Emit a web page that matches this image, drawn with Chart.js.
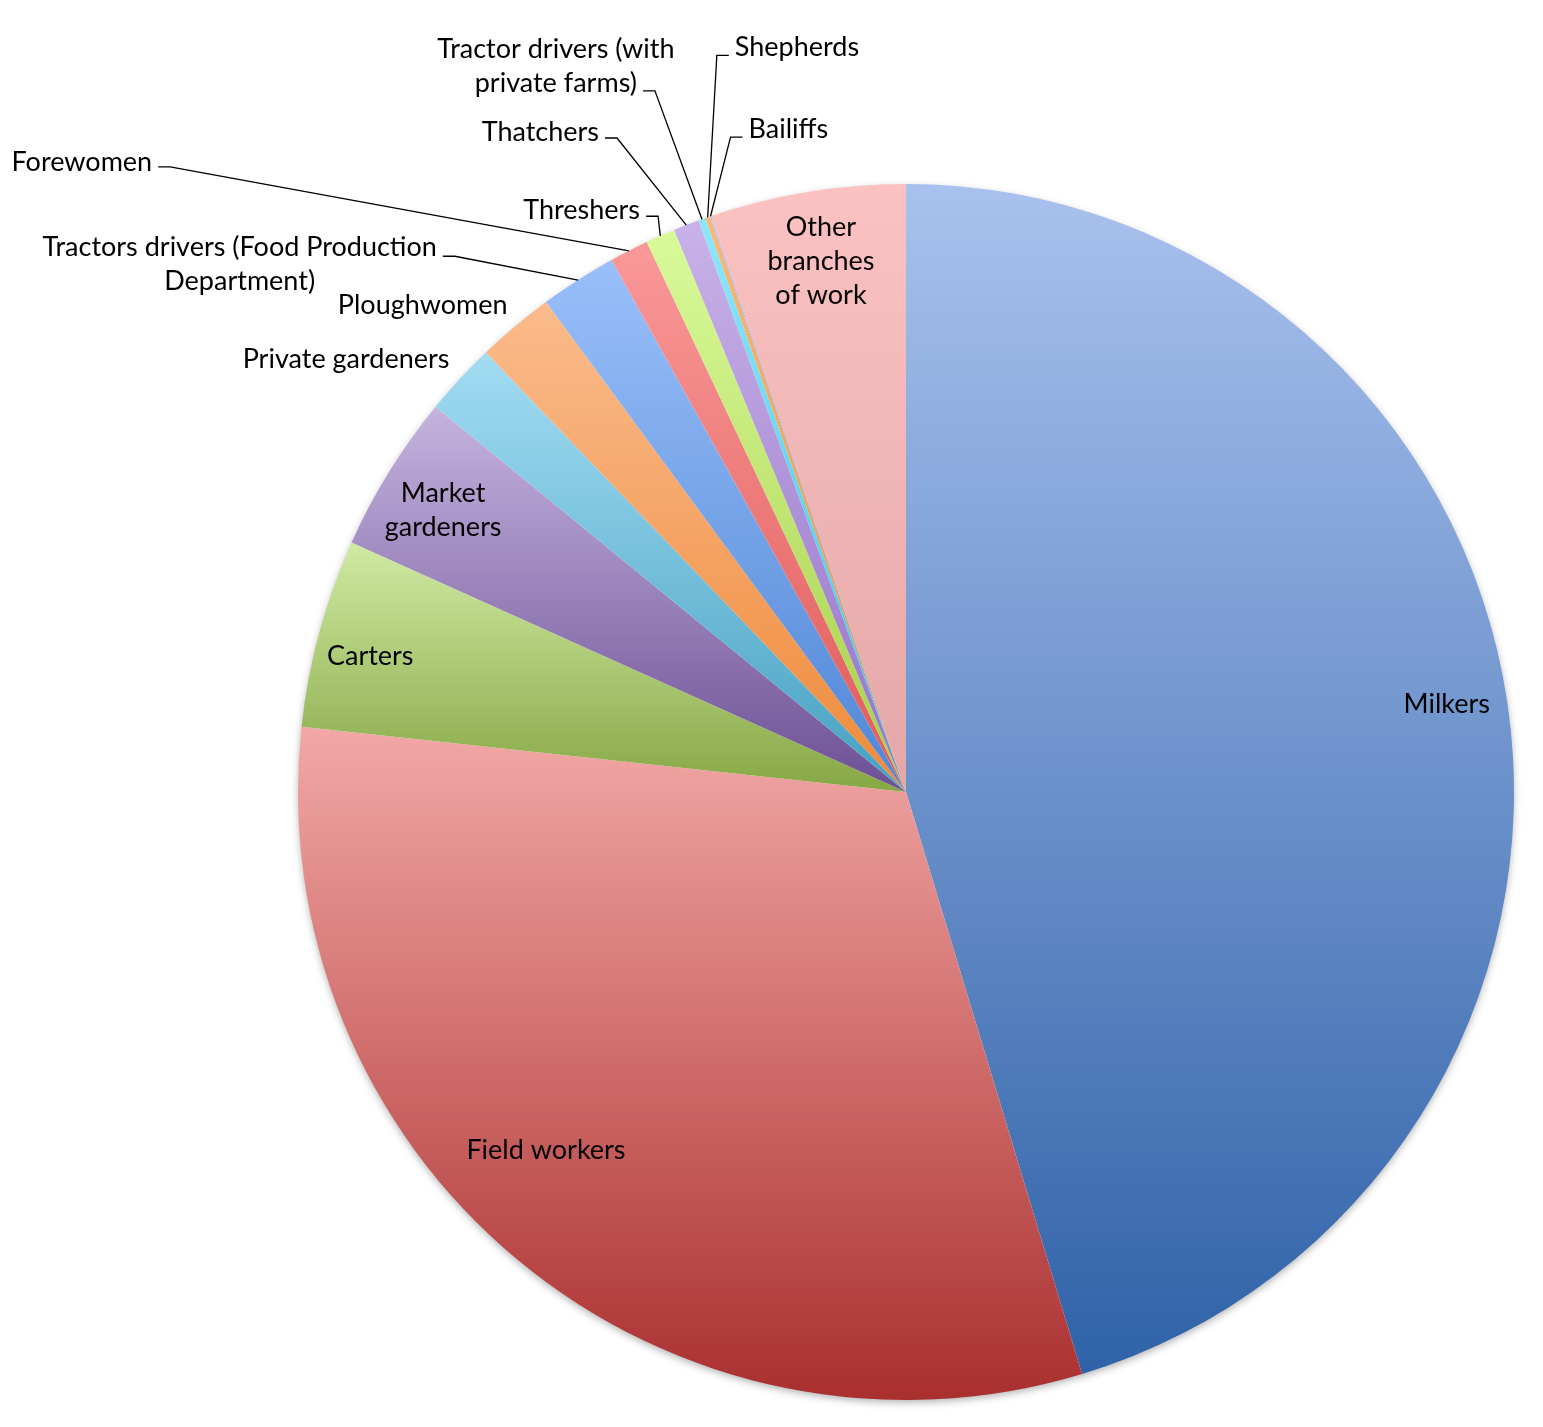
<!DOCTYPE html>
<html>
<head>
<meta charset="utf-8">
<script src="https://cdn.jsdelivr.net/npm/chart.js@4.4.0/dist/chart.umd.min.js"></script>
<style>
  html, body { margin: 0; padding: 0; background: #fff; }
  #wrap { width: 1543px; height: 1427px; position: relative; }
</style>
</head>
<body>
<div id="wrap"><canvas id="pie"></canvas></div>
<script>
var categories = ['Milkers', 'Field workers', 'Carters', 'Market gardeners', 'Private gardeners', 'Ploughwomen',
  'Tractors drivers (Food Production Department)', 'Forewomen', 'Threshers', 'Thatchers',
  'Tractor drivers (with private farms)', 'Shepherds', 'Bailiffs', 'Other branches of work'];
var workers = [5734, 3971, 635, 530, 245, 260, 258, 131, 99, 87, 24, 16, 4, 657];
var labelLines = [['Milkers'], ['Field workers'], ['Carters'], ['Market', 'gardeners'], ['Private gardeners'],
  ['Ploughwomen'], ['Tractors drivers (Food Production', 'Department)'], ['Forewomen'], ['Threshers'],
  ['Thatchers'], ['Tractor drivers (with', 'private farms)'], ['Shepherds'], ['Bailiffs'],
  ['Other', 'branches', 'of work']];

// slice shading, light at the top of each slice and dark at its bottom
var topColors = ['#a9c1ee', '#f2a8a6', '#d0eaa4', '#c4b3de', '#a2dcf2', '#fbbb8c', '#99bff9',
  '#fa9898', '#d9fa9a', '#c8b2e8', '#8ee6fb', '#fbb676', '#a3c2f2', '#fcc2c2'];
var bottomColors = ['#2f62a8', '#aa2f2f', '#86a744', '#6c4f94', '#45a0c2', '#ee8a3a', '#4f86d6',
  '#df5a5a', '#a6cf4a', '#9472c8', '#3ec2e4', '#f08c32', '#5282d0', '#e3a7a7'];

// label spots: angle clockwise from 12 o'clock (deg) and distance as share of the radius
// line = leader line with its elbow at that spot, side = which way the text hangs, dy = text shift
// fit = which text line sits against the leader end
var labelPlace = [
  {a: 80.8, r: 0.901},
  {a: 225.1, r: 0.836},
  {a: 284.2, r: 0.909},
  {a: 301.3, r: 0.891},
  {a: 307.7, r: 1.164},
  {a: 315.2, r: 1.128},
  {a: 319.9, r: 1.152, line: true, side: -1, dy: 8, fit: 0},
  {a: 310.35, r: 1.588, line: true, side: -1, dy: -5},
  {a: 336.7, r: 1.031, line: true, side: -1, dy: -6},
  {a: 336.16, r: 1.176, line: true, side: -1, dy: -6},
  {a: 340.3, r: 1.225, line: true, side: -1, dy: -24, fit: 1},
  {a: 345.6, r: 1.251, line: true, side: 1, dy: -8},
  {a: 345.0, r: 1.115, line: true, side: 1, dy: -8},
  {a: 350.9, r: 0.884}
];

var FONT = '27px Lato';
var LINE_H = 34;

function sliceBox(arc) {
  var ys = [arc.y];
  var R = arc.outerRadius;
  ys.push(arc.y + R * Math.sin(arc.startAngle));
  ys.push(arc.y + R * Math.sin(arc.endAngle));
  for (var k = -4; k <= 8; k++) {
    var a = k * Math.PI / 2;
    if (a > arc.startAngle && a < arc.endAngle) {
      ys.push(arc.y + R * Math.sin(a));
    }
  }
  return {top: Math.min.apply(null, ys), bottom: Math.max.apply(null, ys)};
}

var shading = {
  id: 'shading',
  beforeDatasetsDraw: function (chart) {
    var ctx = chart.ctx;
    var arcs = chart.getDatasetMeta(0).data;
    if (!arcs.length) {
      return;
    }
    var first = arcs[0];
    ctx.save();
    ctx.shadowColor = 'rgba(0,0,0,0.35)';
    ctx.shadowBlur = 8;
    ctx.shadowOffsetY = 3;
    ctx.fillStyle = '#ffffff';
    ctx.beginPath();
    ctx.arc(first.x, first.y, first.outerRadius - 1, 0, Math.PI * 2);
    ctx.fill();
    ctx.restore();

    for (var i = 0; i < arcs.length; i++) {
      var arc = arcs[i];
      var box = sliceBox(arc);
      var g = ctx.createLinearGradient(0, box.top, 0, box.bottom);
      g.addColorStop(0, topColors[i]);
      g.addColorStop(1, bottomColors[i]);
      arc.options = Object.assign({}, arc.options, {backgroundColor: g, borderColor: g});
    }
  }
};

var labels = {
  id: 'sliceLabels',
  afterDatasetsDraw: function (chart) {
    var ctx = chart.ctx;
    var arcs = chart.getDatasetMeta(0).data;
    ctx.save();
    ctx.font = FONT;
    ctx.fillStyle = '#000000';
    ctx.strokeStyle = '#000000';
    ctx.lineWidth = 1.3;
    ctx.textAlign = 'center';
    ctx.textBaseline = 'middle';
    for (var i = 0; i < arcs.length; i++) {
      var arc = arcs[i];
      var p = labelPlace[i];
      var lines = labelLines[i];
      var R = arc.outerRadius;
      var t = p.a * Math.PI / 180;
      var px = arc.x + p.r * R * Math.sin(t);
      var py = arc.y - p.r * R * Math.cos(t);
      var bx = px, by = py;

      if (p.line) {
        var mid = (arc.startAngle + arc.endAngle) / 2;
        var ax = arc.x + R * Math.cos(mid);
        var ay = arc.y + R * Math.sin(mid);
        var sx = px + p.side * 12;
        ctx.beginPath();
        ctx.moveTo(ax, ay);
        ctx.lineTo(px, py);
        ctx.lineTo(sx, py);
        ctx.stroke();
        var w = ctx.measureText(lines[p.fit || 0]).width;
        bx = sx + p.side * (6 + w / 2);
        by = py + p.dy;
      }

      var y0 = by - (lines.length - 1) * LINE_H / 2;
      for (var k = 0; k < lines.length; k++) {
        ctx.fillText(lines[k], bx, y0 + k * LINE_H);
      }
    }
    ctx.restore();
  }
};

new Chart(document.getElementById('pie').getContext('2d'), {
  type: 'pie',
  data: {
    labels: categories,
    datasets: [{
      data: workers,
      backgroundColor: bottomColors,
      borderWidth: 0
    }]
  },
  options: {
    responsive: true,
    maintainAspectRatio: false,
    animation: false,
    events: [],
    layout: {
      padding: {left: 298, right: 29, top: 184, bottom: 27}
    },
    plugins: {
      legend: {display: false},
      title: {display: false},
      tooltip: {enabled: false}
    }
  },
  plugins: [shading, labels]
});
</script>
</body>
</html>
